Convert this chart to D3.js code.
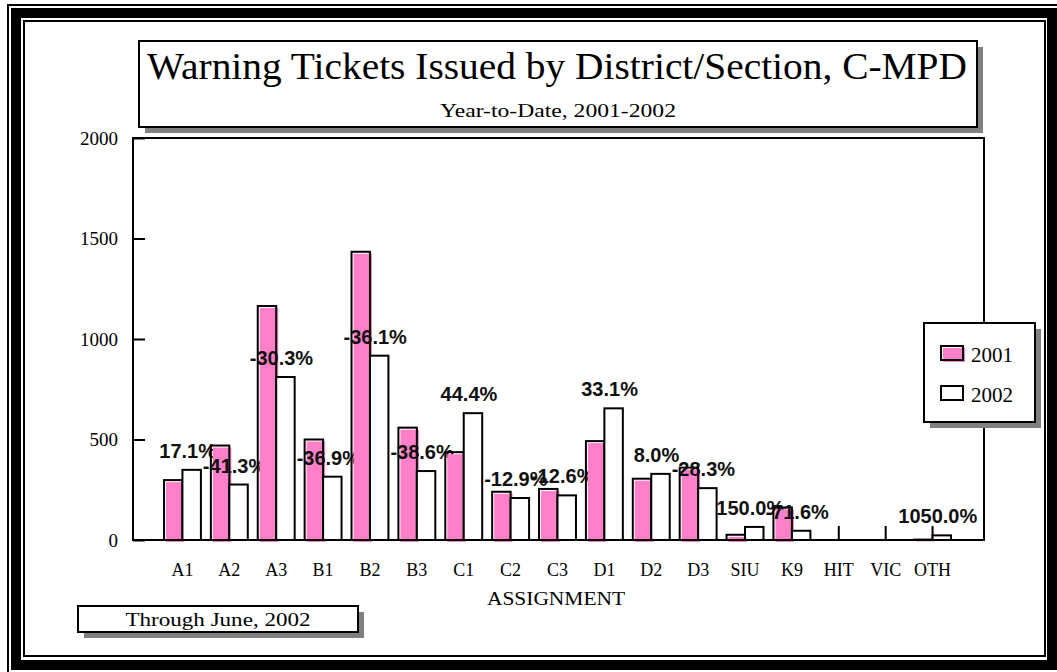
<!DOCTYPE html>
<html>
<head>
<meta charset="utf-8">
<script src="https://cdnjs.cloudflare.com/ajax/libs/d3/7.8.5/d3.min.js"></script>
<style>
  body { margin: 0; background: #fff; }
  svg { display: block; }
</style>
</head>
<body>
<script>
var categories = ["A1", "A2", "A3", "B1", "B2", "B3", "C1", "C2", "C3", "D1", "D2", "D3", "SIU", "K9", "HIT", "VIC", "OTH"];
var seriesNames = ["2001", "2002"];
var values2001 = [298, 470, 1164, 500, 1434, 559, 437, 240, 254, 492, 305, 360, 26, 162, 0, 0, 2];
var values2002 = [349, 276, 811, 315, 917, 343, 631, 209, 222, 655, 329, 258, 65, 46, 0, 0, 23];
var changeLabels = ["17.1%", "-41.3%", "-30.3%", "-36.9%", "-36.1%", "-38.6%", "44.4%", "-12.9%", "-12.6%", "33.1%", "8.0%", "-28.3%", "150.0%", "-71.6%", "", "", "1050.0%"];
var yTicks = [0, 500, 1000, 1500, 2000];

var width = 1057, height = 672;
var pink = "#ff80c8", shadow = "#808080";
var serif = "'Liberation Serif', 'Times New Roman', serif";
var sans = "'Liberation Sans', Arial, sans-serif";

var plot = { left: 133, right: 984, top: 138, bottom: 540 };

var svg = d3.select("body").append("svg")
    .attr("width", width)
    .attr("height", height);

svg.append("rect").attr("width", width).attr("height", height).attr("fill", "#fff");

// page frame: thin line, thick band, thin line
svg.append("rect")
    .attr("x", 8).attr("y", 5).attr("width", 1052).attr("height", 668)
    .attr("fill", "none").attr("stroke", "#000").attr("stroke-width", 2);
svg.append("rect")
    .attr("x", 16).attr("y", 13).attr("width", 1036).attr("height", 652)
    .attr("fill", "none").attr("stroke", "#000").attr("stroke-width", 10);
svg.append("rect")
    .attr("x", 24).attr("y", 21).attr("width", 1021).attr("height", 635)
    .attr("fill", "none").attr("stroke", "#000").attr("stroke-width", 2);

function shadowBox(x, y, w, h) {
    svg.append("rect")
        .attr("x", x + 6).attr("y", y + 6).attr("width", w).attr("height", h)
        .attr("fill", shadow);
    svg.append("rect")
        .attr("x", x).attr("y", y).attr("width", w).attr("height", h)
        .attr("fill", "#fff").attr("stroke", "#000").attr("stroke-width", 2);
}

// title box
shadowBox(139, 41, 838, 86);
svg.append("text")
    .attr("x", 557).attr("y", 79)
    .attr("text-anchor", "middle")
    .attr("textLength", 820).attr("lengthAdjust", "spacingAndGlyphs")
    .style("font-family", serif).style("font-size", "37px")
    .text("Warning Tickets Issued by District/Section, C-MPD");
svg.append("text")
    .attr("x", 558).attr("y", 117)
    .attr("text-anchor", "middle")
    .attr("textLength", 236).attr("lengthAdjust", "spacingAndGlyphs")
    .style("font-family", serif).style("font-size", "19px")
    .text("Year-to-Date, 2001-2002");

// scales
var x0 = d3.scaleBand().domain(categories).range([159, 956]);
var x1 = d3.scaleBand().domain(seriesNames).range([0, x0.bandwidth()]).paddingOuter(0.27);
var y = d3.scaleLinear().domain([0, 2000]).range([plot.bottom, plot.top]);

// plot frame
svg.append("rect")
    .attr("x", plot.left).attr("y", plot.top)
    .attr("width", plot.right - plot.left).attr("height", plot.bottom - plot.top)
    .attr("fill", "#fff").attr("stroke", "#000").attr("stroke-width", 2);

// y axis, ticks pointing inward
var yAxis = svg.append("g")
    .attr("transform", "translate(" + plot.left + ",0)")
    .call(d3.axisLeft(y).tickValues(yTicks).tickFormat(d3.format("d"))
        .tickSizeInner(-12).tickSizeOuter(0).tickPadding(15));
yAxis.select(".domain").remove();
yAxis.selectAll(".tick line").attr("stroke", "#000").attr("stroke-width", 2);
yAxis.selectAll(".tick text")
    .style("font-family", serif).style("font-size", "19px").attr("fill", "#000");

// x axis, category ticks pointing up into plot
var xAxis = svg.append("g")
    .attr("transform", "translate(0," + plot.bottom + ")")
    .call(d3.axisBottom(x0).tickSizeInner(-14).tickSizeOuter(0).tickPadding(23));
xAxis.select(".domain").remove();
xAxis.selectAll(".tick line").attr("stroke", "#000").attr("stroke-width", 2);
xAxis.selectAll(".tick text")
    .style("font-family", serif).style("font-size", "18px").attr("fill", "#000");

var rows = categories.map(function(c, i) {
    return { cat: c, v: [values2001[i], values2002[i]], label: changeLabels[i] };
});

var groups = svg.selectAll(".grp").data(rows).enter().append("g")
    .attr("class", "grp")
    .attr("transform", function(d) { return "translate(" + x0(d.cat) + ",0)"; });

// pink fill is printed slightly off the outline
groups.append("rect")
    .attr("x", x1("2001") + 2)
    .attr("y", function(d) { return y(d.v[0]) + 2; })
    .attr("width", x1.bandwidth())
    .attr("height", function(d) { return y(0) - y(d.v[0]); })
    .attr("fill", pink);
groups.append("rect")
    .attr("x", x1("2001"))
    .attr("y", function(d) { return y(d.v[0]); })
    .attr("width", x1.bandwidth())
    .attr("height", function(d) { return y(0) - y(d.v[0]); })
    .attr("fill", "none").attr("stroke", "#000").attr("stroke-width", 2)
    .style("display", function(d) { return d.v[0] > 0 ? null : "none"; });
groups.append("rect")
    .attr("x", x1("2002"))
    .attr("y", function(d) { return y(d.v[1]); })
    .attr("width", x1.bandwidth())
    .attr("height", function(d) { return y(0) - y(d.v[1]); })
    .attr("fill", "#fff").attr("stroke", "#000").attr("stroke-width", 2)
    .style("display", function(d) { return d.v[1] > 0 ? null : "none"; });

// baseline
svg.append("line")
    .attr("x1", plot.left).attr("x2", plot.right)
    .attr("y1", plot.bottom).attr("y2", plot.bottom)
    .attr("stroke", "#000").attr("stroke-width", 2);

// percent change labels above the 2002 bar
groups.append("text")
    .attr("x", x1("2002") + x1.bandwidth() / 2 - 4)
    .attr("y", function(d) { return y(d.v[1]) - 12; })
    .attr("text-anchor", "middle")
    .style("font-family", sans).style("font-size", "20px").style("font-weight", "bold")
    .attr("fill", "#111")
    .text(function(d) { return d.label; });

svg.append("text")
    .attr("x", 556).attr("y", 605)
    .attr("text-anchor", "middle")
    .attr("textLength", 138).attr("lengthAdjust", "spacingAndGlyphs")
    .style("font-family", serif).style("font-size", "19px")
    .text("ASSIGNMENT");

// legend
shadowBox(924, 323, 111, 99);
var legend = svg.selectAll(".leg").data(seriesNames).enter().append("g")
    .attr("class", "leg")
    .attr("transform", function(d, i) { return "translate(941," + (346 + i * 40) + ")"; });
legend.append("rect")
    .attr("x", 2).attr("y", 2).attr("width", 22).attr("height", 14)
    .attr("fill", function(d, i) { return i == 0 ? pink : "#fff"; });
legend.append("rect")
    .attr("width", 22).attr("height", 14)
    .attr("fill", "none").attr("stroke", "#000").attr("stroke-width", 2);
legend.append("text")
    .attr("x", 30).attr("y", 16)
    .style("font-family", serif).style("font-size", "21px")
    .text(function(d) { return d; });

// footnote box
shadowBox(78, 606, 280, 26);
svg.append("text")
    .attr("x", 218).attr("y", 626)
    .attr("text-anchor", "middle")
    .attr("textLength", 185).attr("lengthAdjust", "spacingAndGlyphs")
    .style("font-family", serif).style("font-size", "19px")
    .text("Through June, 2002");
</script>
</body>
</html>
